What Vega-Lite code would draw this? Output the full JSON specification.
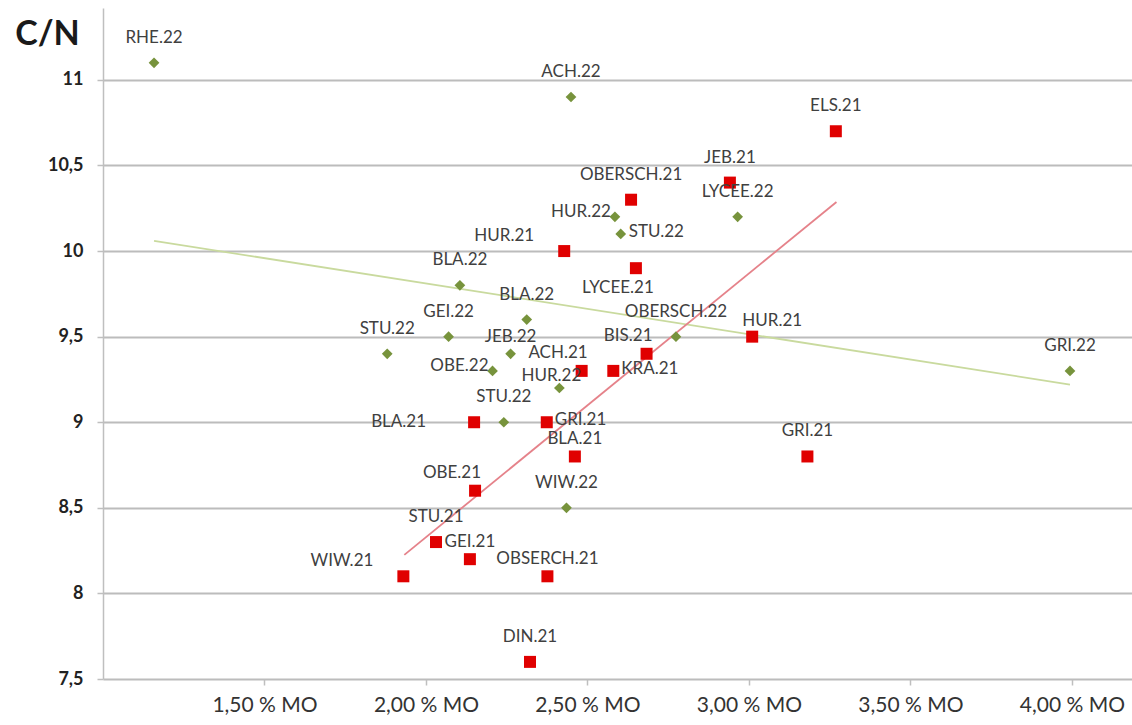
{
  "$schema": "https://vega.github.io/schema/vega-lite/v6.json",
  "width": 1029,
  "height": 671,
  "autosize": "none",
  "padding": {"left": 103, "top": 8, "right": 0, "bottom": 46},
  "background": "white",
  "config": {"view": {"stroke": null}, "font": "Lato"},
  "datasets": {
    "points": [
      {"name": "RHE.22", "mo": 1.158, "cn": 11.1, "year": "2022", "pos": "above"},
      {"name": "ACH.22", "mo": 2.449, "cn": 10.9, "year": "2022", "pos": "above"},
      {"name": "HUR.22", "mo": 2.585, "cn": 10.2, "year": "2022", "pos": "left"},
      {"name": "STU.22", "mo": 2.603, "cn": 10.1, "year": "2022", "pos": "right"},
      {"name": "LYCEE.22", "mo": 2.965, "cn": 10.2, "year": "2022", "pos": "above"},
      {"name": "BLA.22", "mo": 2.105, "cn": 9.8, "year": "2022", "pos": "above"},
      {"name": "BLA.22", "mo": 2.312, "cn": 9.6, "year": "2022", "pos": "above"},
      {"name": "GEI.22", "mo": 2.07, "cn": 9.5, "year": "2022", "pos": "above"},
      {"name": "STU.22", "mo": 1.88, "cn": 9.4, "year": "2022", "pos": "above"},
      {"name": "JEB.22", "mo": 2.262, "cn": 9.4, "year": "2022", "pos": "abovenear"},
      {"name": "OBE.22", "mo": 2.206, "cn": 9.3, "year": "2022", "pos": "left"},
      {"name": "HUR.22", "mo": 2.413, "cn": 9.2, "year": "2022", "pos": "abovelow"},
      {"name": "STU.22", "mo": 2.241, "cn": 9.0, "year": "2022", "pos": "above"},
      {"name": "OBERSCH.22", "mo": 2.774, "cn": 9.5, "year": "2022", "pos": "above"},
      {"name": "WIW.22", "mo": 2.435, "cn": 8.5, "year": "2022", "pos": "above"},
      {"name": "GRI.22", "mo": 3.994, "cn": 9.3, "year": "2022", "pos": "above"},
      {"name": "ELS.21", "mo": 3.269, "cn": 10.7, "year": "2021", "pos": "above"},
      {"name": "JEB.21", "mo": 2.941, "cn": 10.4, "year": "2021", "pos": "above"},
      {"name": "OBERSCH.21", "mo": 2.635, "cn": 10.3, "year": "2021", "pos": "above"},
      {"name": "HUR.21", "mo": 2.428, "cn": 10.0, "year": "2021", "pos": "aboveleftfar"},
      {"name": "LYCEE.21", "mo": 2.65, "cn": 9.9, "year": "2021", "pos": "below"},
      {"name": "BIS.21", "mo": 2.683, "cn": 9.4, "year": "2021", "pos": "aboveleft"},
      {"name": "ACH.21", "mo": 2.482, "cn": 9.3, "year": "2021", "pos": "aboveleft"},
      {"name": "KRA.21", "mo": 2.58, "cn": 9.3, "year": "2021", "pos": "right"},
      {"name": "BLA.21", "mo": 2.149, "cn": 9.0, "year": "2021", "pos": "farleft"},
      {"name": "GRI.21", "mo": 2.374, "cn": 9.0, "year": "2021", "pos": "right"},
      {"name": "BLA.21", "mo": 2.461, "cn": 8.8, "year": "2021", "pos": "abovenear"},
      {"name": "HUR.21", "mo": 3.01, "cn": 9.5, "year": "2021", "pos": "aboveright"},
      {"name": "GRI.21", "mo": 3.181, "cn": 8.8, "year": "2021", "pos": "above"},
      {"name": "OBE.21", "mo": 2.152, "cn": 8.6, "year": "2021", "pos": "aboveleft"},
      {"name": "STU.21", "mo": 2.031, "cn": 8.3, "year": "2021", "pos": "above"},
      {"name": "GEI.21", "mo": 2.136, "cn": 8.2, "year": "2021", "pos": "abovenear"},
      {"name": "WIW.21", "mo": 1.93, "cn": 8.1, "year": "2021", "pos": "aboveleftfar"},
      {"name": "OBSERCH.21", "mo": 2.376, "cn": 8.1, "year": "2021", "pos": "abovenear"},
      {"name": "DIN.21", "mo": 2.322, "cn": 7.6, "year": "2021", "pos": "above"}
    ],
    "trend": [
      {"year": "2022", "mo": 1.158, "cn": 10.06},
      {"year": "2022", "mo": 3.994, "cn": 9.22},
      {"year": "2021", "mo": 1.933, "cn": 8.225},
      {"year": "2021", "mo": 3.271, "cn": 10.287}
    ]
  },
  "encoding": {
    "x": {
      "field": "mo", "type": "quantitative",
      "scale": {"domain": [1.0, 4.186], "nice": false, "zero": false},
      "axis": {
        "title": null, "grid": false, "domain": false,
        "values": [1.5, 2, 2.5, 3, 3.5, 4],
        "labelExpr": "replace(format(datum.value, '.2f'), '.', ',') + ' % MO'",
        "labelFont": "Lato", "labelFontSize": 21, "labelColor": "#333333",
        "labelPadding": 9, "tickSize": 6, "tickColor": "#bfbfbf", "tickWidth": 1.5
      }
    },
    "y": {
      "field": "cn", "type": "quantitative",
      "scale": {"domain": [7.5, 11.42], "nice": false, "zero": false},
      "axis": {
        "title": "C/N", "titleAngle": 0, "titleAlign": "center", "titleBaseline": "middle",
        "titleX": -56, "titleY": 26, "titleFont": "Lato", "titleFontSize": 34, "titleFontWeight": "bold", "titleColor": "#1a1a1a",
        "values": [7.5, 8, 8.5, 9, 9.5, 10, 10.5, 11],
        "labelExpr": "replace(datum.value + '', '.', ',')",
        "labelFont": "Lato", "labelFontSize": 18, "labelFontWeight": "bold", "labelColor": "#222222",
        "labelPadding": 14, "tickSize": 6, "tickColor": "#bfbfbf", "tickWidth": 1.5,
        "domainColor": "#bfbfbf", "domainWidth": 1.5,
        "grid": true, "gridColor": "#bcbcbc", "gridWidth": 2
      }
    }
  },
  "layer": [
    {
      "data": {"name": "trend"},
      "mark": {"type": "line", "strokeWidth": 1.8},
      "encoding": {
        "color": {"field": "year", "type": "nominal", "legend": null,
          "scale": {"domain": ["2021", "2022"], "range": ["#e5828a", "#c9da9e"]}},
        "detail": {"field": "year"}
      }
    },
    {
      "data": {"name": "points"},
      "mark": {"type": "point", "filled": true, "opacity": 1},
      "encoding": {
        "shape": {"field": "year", "type": "nominal", "legend": null,
          "scale": {"domain": ["2021", "2022"], "range": ["square", "diamond"]}},
        "fill": {"field": "year", "type": "nominal", "legend": null,
          "scale": {"domain": ["2021", "2022"], "range": ["#e00000", "#77933c"]}},
        "size": {"field": "year", "type": "nominal", "legend": null,
          "scale": {"domain": ["2021", "2022"], "range": [144, 115]}}
      }
    },
    {
      "data": {"name": "points"},
      "transform": [{"filter": "datum.pos == 'above'"}],
      "mark": {"type": "text", "align": "center", "baseline": "middle", "dy": -25, "fontSize": 17, "font": "Lato", "fill": "#404040"},
      "encoding": {"text": {"field": "name"}}
    },
    {
      "data": {"name": "points"},
      "transform": [{"filter": "datum.pos == 'abovenear'"}],
      "mark": {"type": "text", "align": "center", "baseline": "middle", "dy": -17, "fontSize": 17, "font": "Lato", "fill": "#404040"},
      "encoding": {"text": {"field": "name"}}
    },
    {
      "data": {"name": "points"},
      "transform": [{"filter": "datum.pos == 'abovelow'"}],
      "mark": {"type": "text", "align": "center", "baseline": "middle", "dx": -8, "dy": -12, "fontSize": 17, "font": "Lato", "fill": "#404040"},
      "encoding": {"text": {"field": "name"}}
    },
    {
      "data": {"name": "points"},
      "transform": [{"filter": "datum.pos == 'left'"}],
      "mark": {"type": "text", "align": "right", "baseline": "middle", "dx": -4, "dy": -5, "fontSize": 17, "font": "Lato", "fill": "#404040"},
      "encoding": {"text": {"field": "name"}}
    },
    {
      "data": {"name": "points"},
      "transform": [{"filter": "datum.pos == 'farleft'"}],
      "mark": {"type": "text", "align": "right", "baseline": "middle", "dx": -48, "dy": 0, "fontSize": 17, "font": "Lato", "fill": "#404040"},
      "encoding": {"text": {"field": "name"}}
    },
    {
      "data": {"name": "points"},
      "transform": [{"filter": "datum.pos == 'right'"}],
      "mark": {"type": "text", "align": "left", "baseline": "middle", "dx": 8, "dy": -2, "fontSize": 17, "font": "Lato", "fill": "#404040"},
      "encoding": {"text": {"field": "name"}}
    },
    {
      "data": {"name": "points"},
      "transform": [{"filter": "datum.pos == 'below'"}],
      "mark": {"type": "text", "align": "center", "baseline": "middle", "dx": -18, "dy": 20, "fontSize": 17, "font": "Lato", "fill": "#404040"},
      "encoding": {"text": {"field": "name"}}
    },
    {
      "data": {"name": "points"},
      "transform": [{"filter": "datum.pos == 'aboveleft'"}],
      "mark": {"type": "text", "align": "right", "baseline": "middle", "dx": 6, "dy": -18, "fontSize": 17, "font": "Lato", "fill": "#404040"},
      "encoding": {"text": {"field": "name"}}
    },
    {
      "data": {"name": "points"},
      "transform": [{"filter": "datum.pos == 'aboveleftfar'"}],
      "mark": {"type": "text", "align": "right", "baseline": "middle", "dx": -30, "dy": -15, "fontSize": 17, "font": "Lato", "fill": "#404040"},
      "encoding": {"text": {"field": "name"}}
    },
    {
      "data": {"name": "points"},
      "transform": [{"filter": "datum.pos == 'aboveright'"}],
      "mark": {"type": "text", "align": "center", "baseline": "middle", "dx": 20, "dy": -16, "fontSize": 17, "font": "Lato", "fill": "#404040"},
      "encoding": {"text": {"field": "name"}}
    }
  ]
}
